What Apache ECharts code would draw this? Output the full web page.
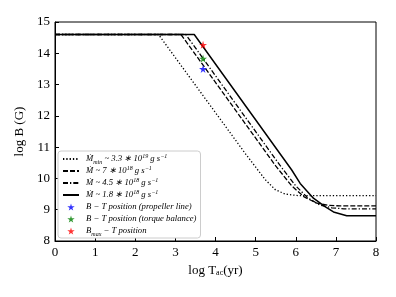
<!DOCTYPE html>
<html><head><meta charset="utf-8">
<script src="https://cdn.jsdelivr.net/npm/echarts@6/dist/echarts.min.js"></script>
<style>html,body{margin:0;padding:0;background:#fff}#c{width:396px;height:297px}</style>
</head><body><div id="c"></div>
<script>
// log T (x), log B (y)
const lineDotted = [[0,14.6],[2.58,14.6],[4.74,10.8],[4.99,10.38],[5.24,9.96],[5.49,9.64],[5.74,9.50],[6.06,9.45],[8,9.45]];
const lineDashed = [[0,14.6],[3.14,14.6],[5.5,10.4],[5.9,9.76],[6.2,9.42],[6.5,9.22],[6.8,9.14],[7.1,9.12],[8,9.12]];
const lineDashDot = [[0,14.6],[3.26,14.6],[5.6,10.43],[6.0,9.76],[6.3,9.38],[6.6,9.15],[6.9,9.06],[7.2,9.03],[8,9.03]];
const lineSolid = [[0,14.6],[3.47,14.6],[5.9,10.27],[6.11,9.84],[6.44,9.37],[6.73,9.10],[6.94,8.93],[7.27,8.81],[8,8.81]];
const starBlue = [[3.69,13.50]];
const starGreen = [[3.69,13.83]];
const starRed = [[3.69,14.27]];
const names = ['m33e19','m7e18','m45e18','m18e18','bt_prop','bt_torque','bmax'];
const labels = {
  m33e19: '{i|Ṁ}{s|min}{t| ~ 3.3 ∗ 10}{p|19}{t| g s}{p|−1}',
  m7e18: '{i|Ṁ}{t| ~ 7 ∗ 10}{p|18}{t| g s}{p|−1}',
  m45e18: '{i|Ṁ}{t| ~ 4.5 ∗ 10}{p|18}{t| g s}{p|−1}',
  m18e18: '{i|Ṁ}{t| ~ 1.8 ∗ 10}{p|18}{t| g s}{p|−1}',
  bt_prop: '{t|B − T position (propeller line)}',
  bt_torque: '{t|B − T position (torque balance)}',
  bmax: '{t|B}{s|max}{t| − T position}'
};
const star = 'path://M50,0 L61,35 L98,35 L68,57 L79,91 L50,70 L21,91 L32,57 L2,35 L39,35 Z';
const serif = 'Liberation Serif';
const fs = 8.7;
const chart = echarts.init(document.getElementById('c'), null, {renderer:'canvas'});
chart.setOption({
  animation: false,
  grid: {left:55, right:20, top:22, bottom:56, show:true, borderColor:'#000', borderWidth:1},
  xAxis: {type:'value', min:0, max:8, interval:1,
    name:'log T{s|ac}(yr)', nameLocation:'middle', nameGap:22,
    nameTextStyle:{fontFamily:serif, fontSize:13, color:'#000', rich:{s:{fontFamily:serif,fontSize:8,color:'#000',verticalAlign:'bottom',padding:[6,0,0,0]}}},
    axisLine:{show:true, lineStyle:{color:'#000'}}, axisTick:{inside:true, length:4, lineStyle:{color:'#000'}},
    axisLabel:{fontFamily:serif, fontSize:13, color:'#000', margin:5}, splitLine:{show:false}},
  yAxis: {type:'value', min:8, max:15, interval:1,
    name:'log B (G)', nameLocation:'middle', nameGap:18,
    nameTextStyle:{fontFamily:serif, fontSize:13, color:'#000'},
    axisLine:{show:true, lineStyle:{color:'#000'}}, axisTick:{inside:true, length:4, lineStyle:{color:'#000'}},
    axisLabel:{fontFamily:serif, fontSize:13, color:'#000', margin:5}, splitLine:{show:false}},
  legend: {orient:'vertical', left:58, top:151, padding:[2,4,1,4], itemWidth:16, itemHeight:7, itemGap:0,
    backgroundColor:'#fff', borderColor:'#ccc', borderWidth:1, borderRadius:3,
    data: names.map((n,k) => k < 4 ? {name:n, itemStyle:{opacity:0}} : {name:n}),
    formatter: n => labels[n],
    textStyle:{fontFamily:serif, fontSize:fs, color:'#000', padding:[0,0,0,2], height:12, lineHeight:12,
      rich:{
        t:{fontFamily:serif, fontStyle:'italic', fontSize:fs, color:'#000', lineHeight:12},
        i:{fontFamily:serif, fontStyle:'italic', fontSize:fs, color:'#000', lineHeight:12},
        s:{fontFamily:serif, fontStyle:'italic', fontSize:6, color:'#000', lineHeight:8, verticalAlign:'bottom'},
        p:{fontFamily:serif, fontStyle:'italic', fontSize:6, color:'#000', lineHeight:7, verticalAlign:'top'}
      }}},
  series: [
    {name:names[0], type:'line', data:lineDotted, symbol:'none', itemStyle:{color:'#000'}, lineStyle:{color:'#000', width:1.3, type:[1.3,2]}},
    {name:names[1], type:'line', data:lineDashed, symbol:'none', itemStyle:{color:'#000'}, lineStyle:{color:'#000', width:1.3, type:[5,2]}},
    {name:names[2], type:'line', data:lineDashDot, symbol:'none', itemStyle:{color:'#000'}, lineStyle:{color:'#000', width:1.3, type:[5,2,1.3,2]}},
    {name:names[3], type:'line', data:lineSolid, symbol:'none', itemStyle:{color:'#000'}, lineStyle:{color:'#000', width:1.5}},
    {name:names[4], type:'scatter', data:starBlue, symbol:star, symbolSize:8, itemStyle:{color:'#0000ff'}, z:5},
    {name:names[5], type:'scatter', data:starGreen, symbol:star, symbolSize:8, itemStyle:{color:'#008000'}, z:5},
    {name:names[6], type:'scatter', data:starRed, symbol:star, symbolSize:8, itemStyle:{color:'#ff0000'}, z:5}
  ]
});
</script></body></html>
